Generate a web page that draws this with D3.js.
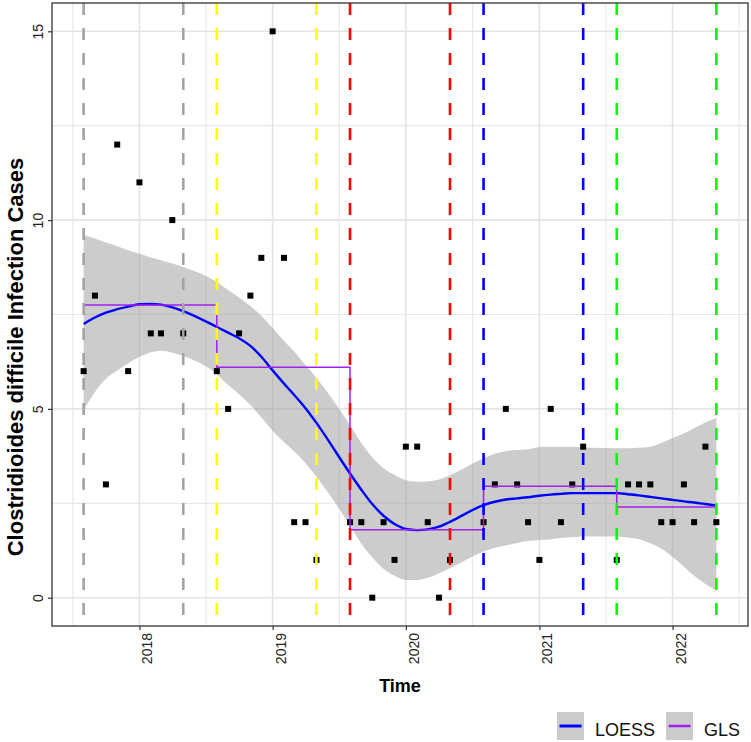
<!DOCTYPE html>
<html>
<head>
<meta charset="utf-8">
<script src="https://cdnjs.cloudflare.com/ajax/libs/d3/7.8.5/d3.min.js"></script>
<style>
    body { margin: 0; background: #fff; }
    text { font-family: 'Liberation Sans', Arial, sans-serif; }
</style>
</head>
<body>
<div class="chart-content"></div>
<script>
// monthly C. difficile cases, Aug-May of each period
let months = [
    '2017-08', '2017-09', '2017-10', '2017-11', '2017-12', '2018-01', '2018-02', '2018-03', '2018-04', '2018-05',
    '2018-08', '2018-09', '2018-10', '2018-11', '2018-12', '2019-01', '2019-02', '2019-03', '2019-04', '2019-05',
    '2019-08', '2019-09', '2019-10', '2019-11', '2019-12', '2020-01', '2020-02', '2020-03', '2020-04', '2020-05',
    '2020-08', '2020-09', '2020-10', '2020-11', '2020-12', '2021-01', '2021-02', '2021-03', '2021-04', '2021-05',
    '2021-08', '2021-09', '2021-10', '2021-11', '2021-12', '2022-01', '2022-02', '2022-03', '2022-04', '2022-05'
];
let cases = [
    6, 8, 3, 12, 6, 11, 7, 7, 10, 7,
    6, 5, 7, 8, 9, 15, 9, 2, 2, 1,
    2, 2, 0, 2, 1, 4, 4, 2, 0, 1,
    2, 3, 5, 3, 2, 1, 5, 2, 3, 4,
    1, 3, 3, 3, 2, 2, 3, 2, 4, 2
];
let period = [
    0, 0, 0, 0, 0, 0, 0, 0, 0, 0,
    1, 1, 1, 1, 1, 1, 1, 1, 1, 1,
    2, 2, 2, 2, 2, 2, 2, 2, 2, 2,
    3, 3, 3, 3, 3, 3, 3, 3, 3, 3,
    4, 4, 4, 4, 4, 4, 4, 4, 4, 4
];
let loessFit = [
    7.25, 7.42, 7.55, 7.64, 7.71, 7.77, 7.78, 7.76, 7.69, 7.59,
    7.17, 7.02, 6.87, 6.67, 6.38, 6.02, 5.67, 5.37, 5.02, 4.63,
    3.29, 2.86, 2.48, 2.17, 1.95, 1.82, 1.79, 1.81, 1.88, 2.01,
    2.45, 2.54, 2.60, 2.63, 2.66, 2.70, 2.73, 2.75, 2.77, 2.77,
    2.77, 2.74, 2.71, 2.67, 2.63, 2.59, 2.55, 2.52, 2.48, 2.44
];
let loessLow = [
    4.97, 5.45, 5.80, 6.02, 6.21, 6.38, 6.50, 6.54, 6.49, 6.40,
    5.92, 5.63, 5.39, 5.10, 4.77, 4.42, 4.12, 3.87, 3.56, 3.20,
    1.91, 1.43, 1.07, 0.76, 0.58, 0.47, 0.47, 0.53, 0.65, 0.78,
    1.22, 1.32, 1.38, 1.45, 1.50, 1.53, 1.55, 1.58, 1.60, 1.62,
    1.62, 1.59, 1.55, 1.44, 1.30, 1.08, 0.82, 0.58, 0.36, 0.19
];
let loessHigh = [
    9.61, 9.51, 9.41, 9.31, 9.20, 9.11, 9.01, 8.94, 8.85, 8.76,
    8.36, 8.15, 7.95, 7.72, 7.47, 7.14, 6.80, 6.52, 6.16, 5.82,
    4.57, 4.10, 3.72, 3.43, 3.25, 3.11, 3.07, 3.08, 3.13, 3.24,
    3.69, 3.81, 3.88, 3.91, 3.93, 3.99, 4.00, 4.00, 4.00, 3.98,
    3.96, 3.96, 3.97, 4.00, 4.10, 4.23, 4.35, 4.49, 4.64, 4.76
];
// GLS segment level per period
let glsLevel = [7.75, 6.1, 1.8, 2.95, 2.4];
let periodColors = ['#a3a3a3', '#ffff00', '#ff0000', '#0000ff', '#00ff00'];

let yTicks = [0, 5, 10, 15];
let yMinorTicks = [2.5, 7.5, 12.5];
let xTickYears = ['2018', '2019', '2020', '2021', '2022'];
let legendLabels = ['LOESS', 'GLS'];
let legendColors = ['#0000ff', '#a020f0'];

let w = 751;
let h = 742;
let pLeft = 52, pRight = 748, pTop = 3, pBottom = 626;

let parseMonth = d3.timeParse('%Y-%m');
let parseYear = d3.timeParse('%Y');
let dates = months.map(parseMonth);
let yearDates = xTickYears.map(parseYear);

let svg = d3.select('.chart-content')
    .append('svg')
    .attr('width', w)
    .attr('height', h);

// ggplot-like 5% expansion
let t0 = dates[0], t1 = dates[dates.length - 1];
let pad = (t1 - t0) * 0.05;
let x = d3.scaleTime()
    .domain([new Date(+t0 - pad), new Date(+t1 + pad)])
    .range([pLeft, pRight]);
let y = d3.scaleLinear()
    .domain([-0.75, 15.75])
    .range([pBottom, pTop]);

// panel background + grid
svg.append('rect')
    .attr('x', pLeft).attr('y', pTop)
    .attr('width', pRight - pLeft).attr('height', pBottom - pTop)
    .attr('fill', '#fff');

let allYears = [d3.timeYear.offset(yearDates[0], -1)].concat(yearDates, [d3.timeYear.offset(yearDates[yearDates.length - 1], 1)]);
let xMinor = d3.pairs(allYears).map(function(p) {return new Date((+p[0] + +p[1]) / 2);})
    .filter(function(d) {return x(d) > pLeft && x(d) < pRight;});

let grid = svg.append('g').attr('class', 'grid');
grid.selectAll('.ymin').data(yMinorTicks).enter().append('line')
    .attr('x1', pLeft).attr('x2', pRight)
    .attr('y1', y).attr('y2', y)
    .attr('stroke', '#e8e8e8').attr('stroke-width', 1.2);
grid.selectAll('.xmin').data(xMinor).enter().append('line')
    .attr('x1', x).attr('x2', x)
    .attr('y1', pTop).attr('y2', pBottom)
    .attr('stroke', '#e8e8e8').attr('stroke-width', 1.2);
grid.selectAll('.ymaj').data(yTicks).enter().append('line')
    .attr('x1', pLeft).attr('x2', pRight)
    .attr('y1', y).attr('y2', y)
    .attr('stroke', '#e4e4e4').attr('stroke-width', 1.6);
grid.selectAll('.xmaj').data(yearDates).enter().append('line')
    .attr('x1', x).attr('x2', x)
    .attr('y1', pTop).attr('y2', pBottom)
    .attr('stroke', '#e4e4e4').attr('stroke-width', 1.6);

// LOESS confidence band
let idx = d3.range(dates.length);
let band = d3.area()
    .x(function(i) {return x(dates[i]);})
    .y0(function(i) {return y(loessLow[i]);})
    .y1(function(i) {return y(loessHigh[i]);})
    .curve(d3.curveMonotoneX);
svg.append('path')
    .datum(idx)
    .attr('d', band)
    .attr('fill', '#999')
    .attr('fill-opacity', 0.5);

// points
svg.selectAll('.pt')
    .data(idx)
    .enter()
    .append('rect')
    .attr('x', function(i) {return x(dates[i]) - 3;})
    .attr('y', function(i) {return y(cases[i]) - 3;})
    .attr('width', 6)
    .attr('height', 6)
    .attr('fill', '#000');

// LOESS line
let loessLine = d3.line()
    .x(function(i) {return x(dates[i]);})
    .y(function(i) {return y(loessFit[i]);})
    .curve(d3.curveMonotoneX);
svg.append('path')
    .datum(idx)
    .attr('d', loessLine)
    .attr('fill', 'none')
    .attr('stroke', '#0000ff')
    .attr('stroke-width', 2.4);

// GLS step line
let glsLine = d3.line()
    .x(function(i) {return x(dates[i]);})
    .y(function(i) {return y(glsLevel[period[i]]);})
    .curve(d3.curveStepAfter);
svg.append('path')
    .datum(idx)
    .attr('d', glsLine)
    .attr('fill', 'none')
    .attr('stroke', '#a020f0')
    .attr('stroke-width', 1.5);

// dashed period boundaries (first and last month of each period)
let vlines = [];
periodColors.forEach(function(c, p) {
    let inP = idx.filter(function(i) {return period[i] === p;});
    vlines.push({d: dates[inP[0]], c: c});
    vlines.push({d: dates[inP[inP.length - 1]], c: c});
});
svg.selectAll('.vline')
    .data(vlines)
    .enter()
    .append('line')
    .attr('x1', function(d) {return x(d.d);})
    .attr('x2', function(d) {return x(d.d);})
    .attr('y1', pTop)
    .attr('y2', pBottom)
    .attr('stroke', function(d) {return d.c;})
    .attr('stroke-width', 2.6)
    .attr('stroke-dasharray', '12,13');

// panel border
svg.append('rect')
    .attr('x', pLeft).attr('y', pTop)
    .attr('width', pRight - pLeft).attr('height', pBottom - pTop)
    .attr('fill', 'none')
    .attr('stroke', '#333')
    .attr('stroke-width', 1.3);

// axes
let xAxis = d3.axisBottom(x).tickValues(yearDates).tickFormat(d3.timeFormat('%Y')).tickSize(4);
let gx = svg.append('g').attr('transform', 'translate(0,' + pBottom + ')').call(xAxis);
gx.select('.domain').remove();
gx.selectAll('.tick line').attr('stroke', '#333').attr('stroke-width', 1.2);
gx.selectAll('.tick text')
    .attr('transform', 'rotate(-90)')
    .attr('x', -7)
    .attr('y', 12.5)
    .attr('dy', 0)
    .attr('text-anchor', 'end')
    .attr('fill', '#222')
    .attr('font-size', '14px')
    .style('font-family', "'Liberation Sans', Arial, sans-serif");

let yAxis = d3.axisLeft(y).tickValues(yTicks).tickSize(4);
let gy = svg.append('g').attr('transform', 'translate(' + pLeft + ',0)').call(yAxis);
gy.select('.domain').remove();
gy.selectAll('.tick line').attr('stroke', '#333').attr('stroke-width', 1.2);
gy.selectAll('.tick text')
    .attr('transform', 'rotate(-90)')
    .attr('x', 0)
    .attr('y', -9.5)
    .attr('dy', 0)
    .attr('text-anchor', 'middle')
    .attr('fill', '#222')
    .attr('font-size', '14px')
    .style('font-family', "'Liberation Sans', Arial, sans-serif");

// axis titles
svg.append('text')
    .attr('x', (pLeft + pRight) / 2)
    .attr('y', 691.5)
    .attr('text-anchor', 'middle')
    .attr('font-size', '18px')
    .attr('font-weight', 'bold')
    .text('Time');
svg.append('text')
    .attr('transform', 'translate(23,357) rotate(-90)')
    .attr('text-anchor', 'middle')
    .attr('font-size', '22px')
    .attr('font-weight', 'bold')
    .text('Clostridioides difficile Infection Cases');

// legend
let legendX = [557, 666];
let lg = svg.selectAll('.legend')
    .data(legendLabels)
    .enter()
    .append('g')
    .attr('transform', function(d, i) {return 'translate(' + legendX[i] + ',712)';});
lg.append('rect')
    .attr('width', 27)
    .attr('height', 28)
    .attr('fill', '#cbcbcb');
lg.append('line')
    .attr('x1', 2.5).attr('x2', 24.5)
    .attr('y1', 14).attr('y2', 14)
    .attr('stroke', function(d, i) {return legendColors[i];})
    .attr('stroke-width', function(d, i) {return i === 0 ? 3 : 2.5;});
lg.append('text')
    .attr('x', 38)
    .attr('y', 24)
    .attr('font-size', '18px')
    .attr('fill', '#111')
    .text(function(d) {return d;});
</script>
</body>
</html>
